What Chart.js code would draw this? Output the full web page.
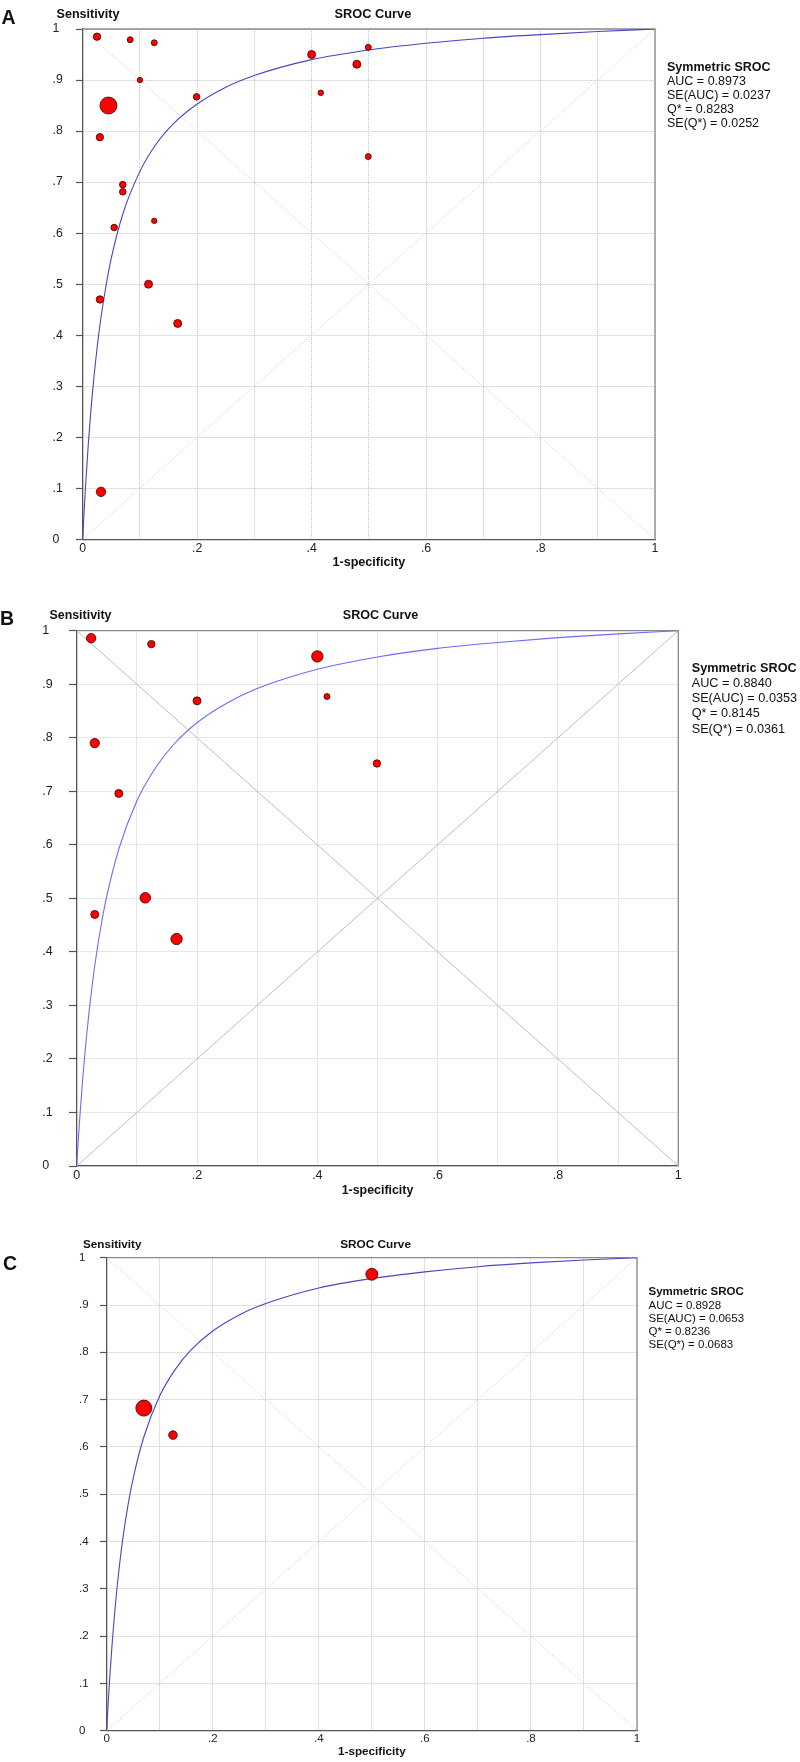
<!DOCTYPE html>
<html>
<head>
<meta charset="utf-8">
<title>SROC curves</title>
<script src="https://cdn.jsdelivr.net/npm/chart.js@4.4.1/dist/chart.umd.min.js"></script>
<style>
  html, body { margin: 0; padding: 0; background: #fff; }
  #page { position: relative; width: 800px; height: 1762px; overflow: hidden;
          font-family: "Liberation Sans", Arial, sans-serif; color: #111; }
  canvas { position: absolute; left: 0; }
  .lbl { position: absolute; white-space: nowrap; line-height: 16px; }
  .panel { position: absolute; font-weight: bold; font-size: 19.5px; line-height: 20px; }
  .bold { font-weight: bold; }
  .stats { position: absolute; white-space: nowrap; }
  .stats div { white-space: nowrap; }
</style>
</head>
<body>
<div id="page">
  <canvas id="chartA" width="800" height="580" style="top:0px"></canvas>
  <canvas id="chartB" width="800" height="620" style="top:580px"></canvas>
  <canvas id="chartC" width="800" height="562" style="top:1200px"></canvas>

  <!-- Panel A -->
  <div class="panel" style="left:1.5px; top:7px;">A</div>
  <div class="lbl bold" style="left:56.5px; top:6.3px; font-size:12.6px;">Sensitivity</div>
  <div class="lbl bold" style="left:334.5px; top:6.3px; font-size:12.8px;">SROC Curve</div>
  <div class="stats" style="left:667px; top:59.6px; font-size:12.5px; line-height:14.2px;">
    <div class="bold">Symmetric SROC</div>
    <div>AUC = 0.8973</div>
    <div>SE(AUC) = 0.0237</div>
    <div>Q* = 0.8283</div>
    <div>SE(Q*) = 0.0252</div>
  </div>

  <!-- Panel B -->
  <div class="panel" style="left:0px; top:608.3px;">B</div>
  <div class="lbl bold" style="left:49.5px; top:606.7px; font-size:12.4px;">Sensitivity</div>
  <div class="lbl bold" style="left:342.8px; top:606.7px; font-size:12.6px;">SROC Curve</div>
  <div class="stats" style="left:691.7px; top:660.7px; font-size:12.7px; line-height:15.2px;">
    <div class="bold">Symmetric SROC</div>
    <div>AUC = 0.8840</div>
    <div>SE(AUC) = 0.0353</div>
    <div>Q* = 0.8145</div>
    <div>SE(Q*) = 0.0361</div>
  </div>

  <!-- Panel C -->
  <div class="panel" style="left:3px; top:1252.7px;">C</div>
  <div class="lbl bold" style="left:83px; top:1236px; font-size:11.7px;">Sensitivity</div>
  <div class="lbl bold" style="left:340.2px; top:1236px; font-size:11.8px;">SROC Curve</div>
  <div class="stats" style="left:648.5px; top:1285.4px; font-size:11.5px; line-height:13.25px;">
    <div class="bold">Symmetric SROC</div>
    <div>AUC = 0.8928</div>
    <div>SE(AUC) = 0.0653</div>
    <div>Q* = 0.8236</div>
    <div>SE(Q*) = 0.0683</div>
  </div>
</div>

<script>
// ========== DATA ==========

// tick labels (0 .. 1 in steps of .1)
const xTickLabels = ['0', '', '.2', '', '.4', '', '.6', '', '.8', '', '1'];
const yTickLabels = ['0', '.1', '.2', '.3', '.4', '.5', '.6', '.7', '.8', '.9', '1'];

// reference diagonals
const diagFpr  = [0, 1];
const diagSens = [0, 1];
const antiSens = [1, 0];

// panel A: individual studies (1-specificity, sensitivity, study weight)
const fprA    = [0.025, 0.083, 0.125, 0.100, 0.045, 0.030, 0.070, 0.070, 0.055, 0.125,
                 0.115, 0.030, 0.166, 0.032, 0.199, 0.400, 0.416, 0.479, 0.499, 0.499];
const sensA   = [0.985, 0.979, 0.973, 0.900, 0.850, 0.788, 0.695, 0.681, 0.611, 0.624,
                 0.500, 0.470, 0.423, 0.093, 0.867, 0.950, 0.875, 0.931, 0.964, 0.750];
const weightA = [3.7, 3, 3, 2.7, 8.5, 3.7, 3.3, 3.3, 3.3, 2.7,
                 4, 3.7, 4, 4.7, 3.3, 4, 2.8, 4, 3, 3];

// panel B
const fprB    = [0.024, 0.124, 0.200, 0.400, 0.416, 0.499, 0.030, 0.070, 0.030, 0.114, 0.166];
const sensB   = [0.986, 0.975, 0.869, 0.952, 0.877, 0.752, 0.790, 0.696, 0.470, 0.501, 0.424];
const weightB = [4.7, 3.7, 4, 5.7, 3, 3.7, 4.7, 4, 4, 5.3, 5.7];

// panel C
const fprC    = [0.500, 0.070, 0.125];
const sensC   = [0.965, 0.682, 0.625];
const weightC = [6, 8, 4.3];

// SROC curves
const curveFpr   = [0, 0.0025, 0.005, 0.01, 0.015, 0.02, 0.03, 0.04, 0.05, 0.07, 0.1, 0.13,
                    0.16, 0.2, 0.25, 0.3, 0.4, 0.5, 0.6, 0.7, 0.8, 0.9, 1];
const curveSensA = [0, 0.055, 0.105, 0.190, 0.262, 0.322, 0.419, 0.492, 0.551, 0.637, 0.721, 0.777,
                    0.816, 0.853, 0.886, 0.909, 0.940, 0.959, 0.972, 0.982, 0.989, 0.995, 1];
const curveSensB = [0, 0.046, 0.088, 0.163, 0.227, 0.282, 0.374, 0.446, 0.504, 0.592, 0.682, 0.742,
                    0.786, 0.828, 0.865, 0.892, 0.928, 0.951, 0.967, 0.978, 0.987, 0.994, 1];
const curveSensC = [0, 0.052, 0.099, 0.180, 0.249, 0.308, 0.403, 0.476, 0.534, 0.621, 0.708, 0.765,
                    0.806, 0.845, 0.879, 0.903, 0.936, 0.956, 0.970, 0.981, 0.989, 0.995, 1];

// ========== CHARTS ==========

const FONT = '"Liberation Sans", Arial, sans-serif';

function toPoints(xs, ys) {
    return xs.map((x, i) => ({ x: x, y: ys[i] }));
}

// top and right edges of the plot box
const framePlugin = {
    id: 'frame',
    beforeDatasetsDraw(chart, args, opts) {
        const { ctx, chartArea: a } = chart;
        ctx.save();
        ctx.strokeStyle = opts.color || '#888';
        ctx.lineWidth = opts.width || 1.3;
        ctx.beginPath();
        ctx.moveTo(a.left, a.top);
        ctx.lineTo(a.right, a.top);
        ctx.lineTo(a.right, a.bottom);
        ctx.stroke();
        ctx.restore();
    }
};

/**
 * Gráfico SROC de un panel
 */
function createSrocChart(id, p) {
    return new Chart(document.getElementById(id), {
        type: 'scatter',
        data: {
            datasets: [
                {
                    label: 'Studies',
                    data: toPoints(p.fpr, p.sens),
                    pointRadius: p.weight,
                    pointHoverRadius: p.weight,
                    backgroundColor: '#ff0000',
                    borderColor: '#3a0000',
                    borderWidth: 0.8,
                    clip: false,
                    order: 1
                },
                {
                    label: 'SROC',
                    data: toPoints(curveFpr, p.curve),
                    showLine: true,
                    pointRadius: 0,
                    borderColor: p.curveColor,
                    borderWidth: 1.1,
                    cubicInterpolationMode: 'monotone',
                    order: 2
                },
                {
                    label: 'Diagonal',
                    data: toPoints(diagFpr, diagSens),
                    showLine: true,
                    pointRadius: 0,
                    borderColor: p.diagColor,
                    borderWidth: 1,
                    borderDash: p.diagDash,
                    order: 3
                },
                {
                    label: 'Anti-diagonal',
                    data: toPoints(diagFpr, antiSens),
                    showLine: true,
                    pointRadius: 0,
                    borderColor: p.diagColor,
                    borderWidth: 1,
                    borderDash: p.diagDash,
                    order: 4
                }
            ]
        },
        options: {
            responsive: false,
            animation: false,
            devicePixelRatio: 1,
            layout: { padding: p.padding },
            scales: {
                x: {
                    type: 'linear',
                    min: 0,
                    max: 1,
                    afterFit: s => { s.height = p.xHeight; },
                    ticks: {
                        stepSize: 0.1,
                        autoSkip: false,
                        maxRotation: 0,
                        padding: p.xTickPad,
                        color: '#222',
                        font: { size: p.tickFont, family: FONT },
                        callback: v => xTickLabels[Math.round(v * 10)]
                    },
                    grid: { color: p.gridColor, lineWidth: 1, drawTicks: false },
                    border: { color: '#555', width: 1.3, dash: p.gridDash },
                    title: {
                        display: true,
                        text: '1-specificity',
                        color: '#111',
                        padding: 0,
                        font: { size: p.titleFont, weight: 'bold', family: FONT }
                    }
                },
                y: {
                    type: 'linear',
                    min: 0,
                    max: 1,
                    afterFit: s => { s.width = p.yWidth; },
                    ticks: {
                        stepSize: 0.1,
                        autoSkip: false,
                        crossAlign: 'far',
                        color: '#222',
                        font: { size: p.tickFont, family: FONT },
                        callback: v => yTickLabels[Math.round(v * 10)]
                    },
                    grid: {
                        color: p.gridColor,
                        lineWidth: 1,
                        tickColor: '#555',
                        tickLength: p.tickLen,
                        tickWidth: 1.2,
                        tickBorderDash: []
                    },
                    border: { color: '#555', width: 1.3, dash: p.gridDash }
                }
            },
            plugins: {
                legend: { display: false },
                tooltip: { enabled: false },
                frame: { color: p.frameColor, width: 1.3 }
            }
        },
        plugins: [framePlugin]
    });
}

createSrocChart('chartA', {
    fpr: fprA, sens: sensA, weight: weightA, curve: curveSensA,
    curveColor: '#4646c4', diagColor: '#c6c6c6', diagDash: [1, 2],
    gridColor: '#c4c4c4', gridDash: [1, 1], frameColor: '#8a8a8a',
    padding: { left: 52.5, top: 29, right: 145, bottom: 10.1 },
    yWidth: 30.2, xHeight: 30.6, xTickPad: 1.6, tickLen: 6.7,
    tickFont: 12.3, titleFont: 12.6
});

createSrocChart('chartB', {
    fpr: fprB, sens: sensB, weight: weightB, curve: curveSensB,
    curveColor: '#6b6bff', diagColor: '#bdbdbd', diagDash: [],
    gridColor: '#e6e6e6', gridDash: [], frameColor: '#8a8a8a',
    padding: { left: 42.3, top: 50.7, right: 121.7, bottom: 1.9 },
    yWidth: 34.4, xHeight: 32.1, xTickPad: 2.5, tickLen: 7.7,
    tickFont: 12.5, titleFont: 12.4
});

createSrocChart('chartC', {
    fpr: fprC, sens: sensC, weight: weightC, curve: curveSensC,
    curveColor: '#4646c4', diagColor: '#c6c6c6', diagDash: [1, 2],
    gridColor: '#c4c4c4', gridDash: [1, 1], frameColor: '#8a8a8a',
    padding: { left: 79, top: 57.7, right: 163, bottom: 3 },
    yWidth: 27.7, xHeight: 28.3, xTickPad: 1.7, tickLen: 6.7,
    tickFont: 11.5, titleFont: 11.7
});
</script>
</body>
</html>
